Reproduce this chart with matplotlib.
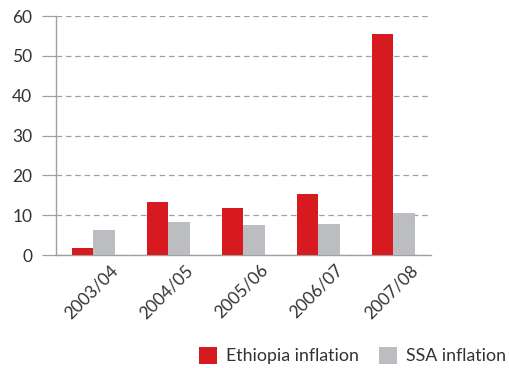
import matplotlib.pyplot as plt
import numpy as np
from matplotlib.patches import Patch
from matplotlib.transforms import ScaledTranslation

plt.rcParams['font.family'] = ['Lato', 'DejaVu Sans']

# annual inflation, percent
years = ['2003/04', '2004/05', '2005/06', '2006/07', '2007/08']
ethiopia = [1.7, 13.2, 11.7, 15.2, 55.4]
ssa = [6.3, 8.4, 7.5, 7.7, 10.6]

red = '#d71920'
grey = '#bcbdc0'
text_col = '#333333'
line_col = '#a0a0a0'

fig = plt.figure(figsize=(5.1, 3.68), dpi=100)
ax = fig.add_axes([0.1098, 0.307, 0.735, 0.6495])

x = np.arange(len(years))
w = 0.283
ax.bar(x - w / 2, ethiopia, w, color=red, zorder=3)
ax.bar(x + w / 2, ssa, w, color=grey, zorder=3)

ax.set_xlim(-0.5, 4.5)
ax.set_ylim(0, 60)
ax.set_yticks(range(0, 61, 10))
ax.yaxis.grid(True, color=line_col, linestyle=(0, (4.5, 3)), linewidth=0.9)
ax.set_axisbelow(True)

for side in ['top', 'right']:
    ax.spines[side].set_visible(False)
for side in ['left', 'bottom']:
    ax.spines[side].set_color(line_col)
    ax.spines[side].set_linewidth(1.0)

ax.tick_params(axis='y', length=10, width=0.9, color=line_col, pad=7,
               labelsize=12.5, labelcolor=text_col)
ax.tick_params(axis='x', length=0, pad=9, labelsize=12.5, labelcolor=text_col)

ax.set_xticks(x)
ax.set_xticklabels(years, rotation=45, ha='right', va='center',
                   rotation_mode='anchor')
shift = ScaledTranslation(16 / 72, 0, fig.dpi_scale_trans)
for lbl in ax.get_xticklabels():
    lbl.set_transform(lbl.get_transform() + shift)

handles = [Patch(facecolor=red, label='Ethiopia inflation'),
           Patch(facecolor=grey, label='SSA inflation')]
leg = fig.legend(handles=handles, loc='lower right', ncol=2, frameon=False,
                 bbox_to_anchor=(1.0, 0.0), fontsize=12.8,
                 handlelength=1.0, handleheight=1.1, handletextpad=0.55,
                 columnspacing=1.1, borderaxespad=0.0, borderpad=0.2)
for t in leg.get_texts():
    t.set_color(text_col)

fig.savefig('out.png', dpi=100)
